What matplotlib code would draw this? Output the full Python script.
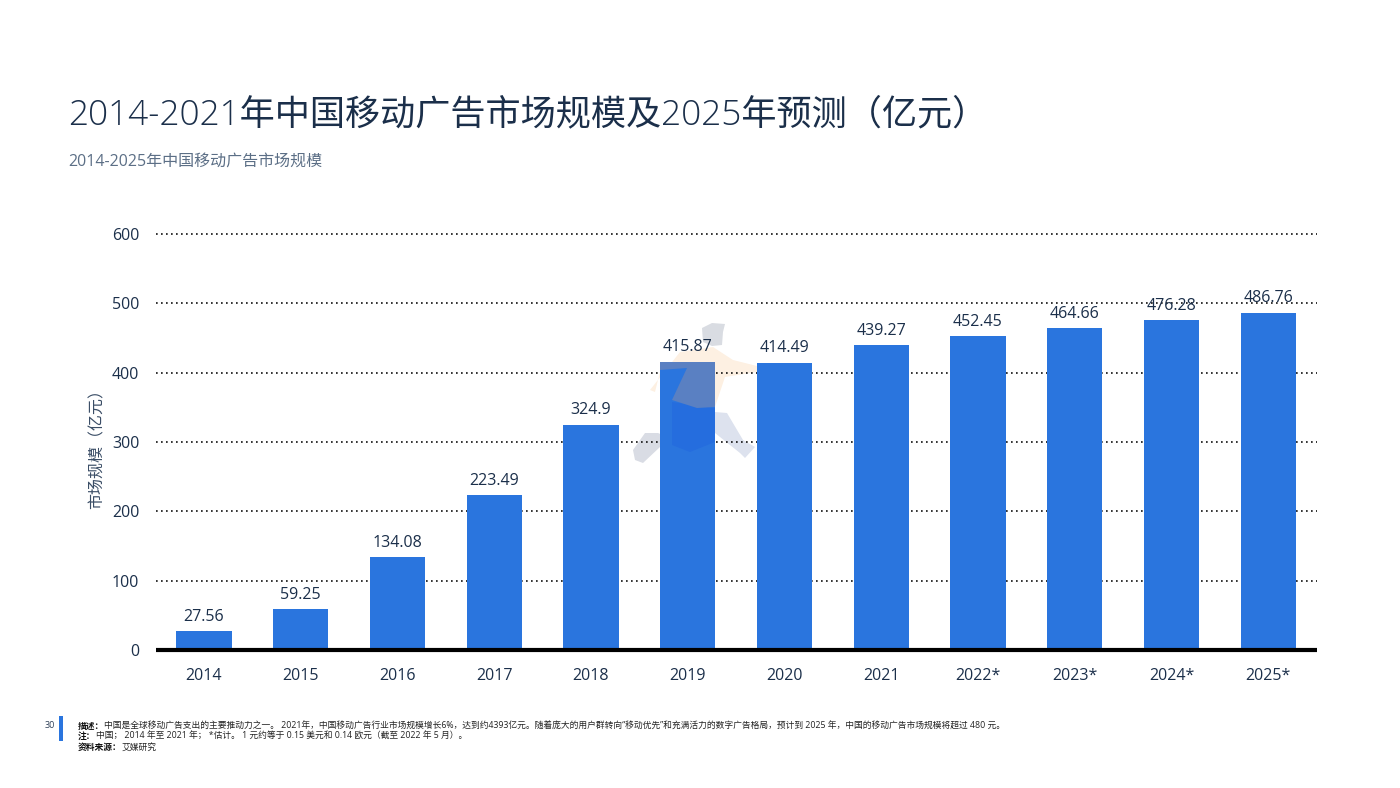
"""2014-2025 China mobile advertising market size, bar chart slide."""
import matplotlib
matplotlib.use("Agg")
import matplotlib.pyplot as plt
from matplotlib.patches import Polygon, Rectangle

plt.rcParams["font.family"] = ["Open Sans", "Noto Sans CJK SC", "DejaVu Sans"]

W, H = 1400, 788
INK = "#1b2f4a"
BLUE = "#2a75de"

years = ["2014", "2015", "2016", "2017", "2018", "2019", "2020", "2021",
         "2022*", "2023*", "2024*", "2025*"]
market_size = [27.56, 59.25, 134.08, 223.49, 324.9, 415.87, 414.49, 439.27,
               452.45, 464.66, 476.28, 486.76]
value_labels = ["27.56", "59.25", "134.08", "223.49", "324.9", "415.87", "414.49",
                "439.27", "452.45", "464.66", "476.28", "486.76"]
y_ticks = [0, 100, 200, 300, 400, 500, 600]

title = "2014-2021年中国移动广告市场规模及2025年预测（亿元）"
subtitle = "2014-2025年中国移动广告市场规模"
y_label = "市场规模（亿元）"
notes = [
    ("描述：", "中国是全球移动广告支出的主要推动力之一。 2021年，中国移动广告行业市场规模增长6%，达到约4393亿元。"
              "随着庞大的用户群转向“移动优先”和充满活力的数字广告格局，预计到 2025 年，中国的移动广告市场规模将超过 480 元。"),
    ("注：", "中国； 2014 年至 2021 年； *估计。 1 元约等于 0.15 美元和 0.14 欧元（截至 2022 年 5 月）。"),
    ("资料来源：", "艾媒研究"),
]


def px(x, y):
    """Pixel position (top-left origin) to figure fraction."""
    return x / W, 1 - y / H


def pixel_axes(zorder):
    """Invisible full-figure axes addressed in pixels, for the watermark."""
    layer = fig.add_axes([0, 0, 1, 1], zorder=zorder)
    layer.set_xlim(0, W)
    layer.set_ylim(H, 0)
    layer.axis("off")
    return layer


fig = plt.figure(figsize=(14, 7.88), dpi=100, facecolor="white")

left, bottom = px(155.6, 650)
ax = fig.add_axes([left, bottom, 1161 / W, 416 / H], zorder=2)
ax.set_xlim(-0.5, 11.5)
ax.set_ylim(0, 600)
ax.patch.set_visible(False)

ax.yaxis.grid(True, linestyle=(0, (1, 2)), linewidth=1.2, color="#111111", zorder=1, clip_on=False)
ax.set_axisbelow(True)
bars = ax.bar(range(len(years)), market_size, width=0.57, color=BLUE, zorder=2)
ax.bar_label(bars, labels=value_labels, padding=4.5, fontsize=11.5, color=INK)

for side in ["top", "right", "left"]:
    ax.spines[side].set_visible(False)
ax.spines["bottom"].set_linewidth(3)
ax.spines["bottom"].set_color("black")
ax.spines["bottom"].set_capstyle("butt")
ax.spines["bottom"].set_zorder(5)

ax.set_xticks(range(len(years)), years)
ax.set_yticks(y_ticks)
ax.tick_params(axis="both", length=0, labelsize=11.5, labelcolor=INK)
ax.tick_params(axis="x", pad=13)
ax.tick_params(axis="y", pad=11.7)

# faint running-man watermark: pale shapes behind the chart...
under = pixel_axes(1)
pale_shapes = [
    ([(702, 328), (712, 323), (725, 324), (723, 332), (722, 345), (712, 346), (703, 342)], "#d9dce2"),
    ([(713, 347), (680, 352), (650, 390), (655, 392), (660, 372), (700, 410), (715, 407),
      (725, 377), (757, 372), (757, 366), (733, 360)], "#fdf0e2"),
    ([(757, 372), (773, 366), (772, 370), (757, 375)], "#dfe4ee"),
    ([(715, 412), (727, 413), (743, 440), (755, 447), (745, 458), (740, 453), (715, 433)], "#dde2ee"),
    ([(633, 450), (645, 433), (658, 433), (670, 438), (670, 445), (660, 447), (643, 463), (635, 460)], "#d9dce4"),
]
for points, colour in pale_shapes:
    under.add_patch(Polygon(points, closed=True, color=colour, lw=0))

# ...and the part of it showing through the 2019 bar
over = pixel_axes(3)
shirt = Polygon([(660, 362), (715, 362), (715, 407), (697, 408), (672, 400), (687, 368), (660, 370)],
                closed=True, color="#5a80c2", lw=0)
pants = Polygon([(672, 402), (715, 408), (715, 442), (690, 452), (672, 445)],
                closed=True, color="#256dde", lw=0)
over.add_patch(pants)
over.add_patch(shirt)
shirt.set_clip_path(bars[5])
pants.set_clip_path(bars[5])

fig.text(*px(68, 115), title, fontsize=25.3, color=INK, va="center", ha="left", fontweight="light")
fig.text(*px(68, 162), subtitle, fontsize=11.5, color="#5c6f86", va="center", ha="left")
fig.text(*px(98, 445), y_label, fontsize=11.5, color="#3a4d66", rotation=90, va="center", ha="center")

# footer
fig.add_artist(Rectangle(px(59, 741), 3.5 / W, 25 / H, transform=fig.transFigure,
                         color=BLUE, lw=0))
fig.text(*px(45, 726), "30", fontsize=6.5, color="#2f4058", va="center", ha="left")
note_y = [726, 736.5, 747]
note_x = [104, 96, 122]
for (head, body), y, x in zip(notes, note_y, note_x):
    fig.text(*px(78, y), head, fontsize=6.3, color="#111111", va="center", ha="left", fontweight="bold")
    fig.text(*px(x, y), body, fontsize=6.3, color="#222222", va="center", ha="left")

fig.savefig("out.png", dpi=100)
